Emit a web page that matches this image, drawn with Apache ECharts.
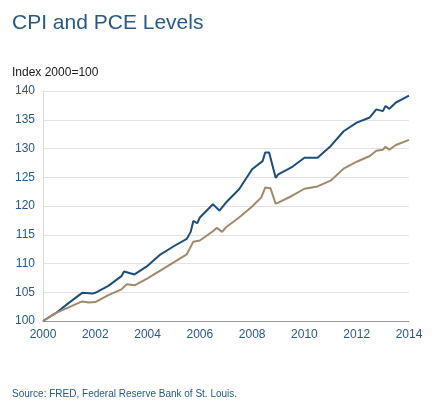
<!DOCTYPE html><html><head><meta charset="utf-8"><script src="https://cdn.jsdelivr.net/npm/echarts@6/dist/echarts.min.js"></script>
<style>body{margin:0}#c{width:448px;height:403px}</style></head><body><div id="c"></div><script>
const cpiX=[2000,2000.5,2001,2001.5,2001.9,2002,2002.5,2003,2003.1,2003.5,2004,2004.5,2005,2005.5,2005.65,2005.75,2005.9,2006,2006.5,2006.75,2007,2007.5,2008,2008.4,2008.5,2008.65,2008.9,2009,2009.5,2010,2010.5,2011,2011.5,2012,2012.5,2012.75,2013,2013.1,2013.25,2013.5,2014];
const cpiY=[100,101.4,103.2,104.9,104.8,104.9,106.1,107.8,108.6,108.1,109.6,111.6,113.0,114.3,115.5,117.4,117.0,118.0,120.3,119.2,120.6,122.9,126.4,127.8,129.3,129.3,124.9,125.5,126.7,128.4,128.4,130.4,133.0,134.5,135.4,136.8,136.5,137.4,136.9,138.0,139.2];
const pceX=[2000,2000.5,2001,2001.5,2001.75,2002,2002.5,2003,2003.2,2003.5,2004,2004.5,2005,2005.5,2005.75,2006,2006.5,2006.65,2006.85,2007,2007.5,2008,2008.35,2008.5,2008.7,2008.9,2009,2009.5,2010,2010.5,2011,2011.5,2012,2012.5,2012.75,2013,2013.1,2013.25,2013.5,2014];
const pceY=[100,101.4,102.4,103.4,103.2,103.3,104.5,105.5,106.4,106.2,107.4,108.8,110.2,111.6,113.8,114.0,115.6,116.2,115.5,116.3,118.0,119.9,121.5,123.2,123.1,120.4,120.6,121.7,123.0,123.4,124.4,126.5,127.7,128.7,129.6,129.8,130.3,129.8,130.6,131.5];
const xTicks=[2000,2002,2004,2006,2008,2010,2012,2014];
const yTicks=[100,105,110,115,120,125,130,135,140];
const z=(a,b)=>a.map((v,i)=>[v,b[i]]);
const f='Arial, Liberation Sans, sans-serif';
const mp=(x,y,t,c)=>({symbol:'circle',symbolSize:1,itemStyle:{opacity:0},data:[{coord:[x,y],label:{show:true,position:'inside',formatter:t,color:c,fontSize:13,fontFamily:f}}]});
echarts.init(document.getElementById('c')).setOption({
animation:false,
title:[{text:'CPI and PCE Levels',left:7,top:8,textStyle:{fontFamily:f,fontSize:21,fontWeight:'normal',color:'#275a8c'}},
{text:'Index 2000=100',left:7,top:62,textStyle:{fontFamily:f,fontSize:12,fontWeight:'normal',color:'#222'}},
{text:'Source: FRED, Federal Reserve Bank of St. Louis.',left:7,top:384,textStyle:{fontFamily:f,fontSize:10,fontWeight:'normal',color:'#275a8c'}}],
grid:{left:43,right:39,top:91,bottom:82},
xAxis:{type:'value',min:2000,max:2014,interval:2,axisLine:{lineStyle:{color:'#999'}},axisTick:{show:false},splitLine:{show:false},
axisLabel:{color:'#275a8c',fontFamily:f,fontSize:12,margin:8,formatter:v=>String(v)}},
yAxis:{type:'value',min:100,max:140,interval:5,axisLine:{show:true,lineStyle:{color:'#ddd'}},axisTick:{show:false},splitLine:{lineStyle:{color:'#e4e4e4'}},
axisLabel:{color:'#275a8c',fontFamily:f,fontSize:12,margin:8}},
series:[{type:'line',data:z(cpiX,cpiY),showSymbol:false,lineStyle:{color:'#1d4e7c',width:2},markPoint:mp(2006.9,124.3,'CPI','#1d4e7c')},
{type:'line',data:z(pceX,pceY),showSymbol:false,lineStyle:{color:'#a08a6c',width:2},markPoint:mp(2008.3,117.4,'PCE','#a08a6c')}]
});
</script></body></html>
